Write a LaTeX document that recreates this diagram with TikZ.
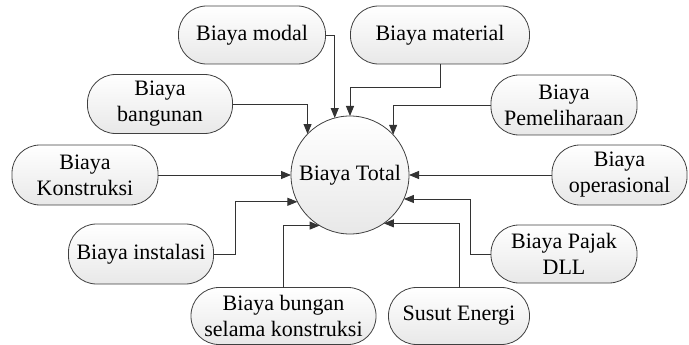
\documentclass[tikz,border=0pt]{standalone}
\usepackage{fontspec}
\setmainfont{Liberation Serif}
\usetikzlibrary{arrows.meta,calc}
\begin{document}
\begin{tikzpicture}[x=1pt,y=-1pt,
  every node/.style={font=\fontsize{22}{26}\selectfont, align=center, inner sep=0pt, outer sep=0pt},
  pill/.style={draw=black!75, line width=0.8pt, rounded corners=28pt,
    top color=white, bottom color=black!9, minimum height=58pt},
  hub/.style={circle, draw=black!75, line width=0.8pt,
    top color=white, bottom color=black!9, minimum size=118pt},
  link/.style={draw=black!80, line width=0.9pt,
    -{Triangle[length=10pt,width=8pt]}}
]
\useasboundingbox (0,0) rectangle (689,345);

% centre
\node[hub] (T) at (350,175) {Biaya Total};

% cost items
\node[pill, minimum width=147pt] (modal) at (252,35) {Biaya modal};
\node[pill, minimum width=179pt] (material) at (440,35) {Biaya material};
\node[pill, minimum width=145pt, minimum height=59pt] (bangunan) at (160,104) {Biaya\\bangunan};
\node[pill, minimum width=146pt, minimum height=60pt] (pelihara) at (564,105) {Biaya\\Pemeliharaan};
\node[pill, minimum width=146pt, minimum height=60pt] (konstruksi) at (85,175) {Biaya\\Konstruksi};
\node[pill, minimum width=135pt, minimum height=60pt] (operasional) at (619.5,175) {Biaya\\operasional};
\node[pill, minimum width=145pt, minimum height=60pt] (instalasi) at (141,254) {Biaya instalasi};
\node[pill, minimum width=146pt] (pajak) at (564,254) {Biaya Pajak\\DLL};
\node[pill, minimum width=185pt, minimum height=57pt] (bunga) at (283.5,316) {Biaya bungan\\selama konstruksi};
\node[pill, minimum width=141pt, minimum height=57pt] (susut) at (459,316) {Susut Energi};

% connectors into the centre
\draw[link] (modal.east) -| (T.105.7);
\draw[link] (material.south) -- ++(0,23) -| (T.90);
\draw[link] (bangunan.east) -| (T.136.8);
\draw[link] (pelihara.west) -| (T.43.2);
\draw[link] (konstruksi.east) -- (T.west);
\draw[link] (operasional.west) -- (T.east);
\draw[link] (instalasi.east) -- ++(22,0) |- (T.207.2);
\draw[link] (bunga.north) |- (T.239.8);
\draw[link] (pajak.west) -- ++(-21,0) |- (T.336);
\draw[link] (susut.north) |- (T.305.6);
\end{tikzpicture}
\end{document}
